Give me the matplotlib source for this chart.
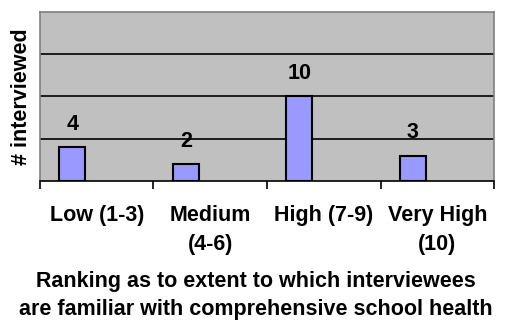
import matplotlib
matplotlib.use("Agg")
import matplotlib.pyplot as plt
import numpy as np

plt.rcParams['font.family'] = ['Liberation Sans', 'DejaVu Sans']

categories = ["Low (1-3)", "Medium\n(4-6)", "High (7-9)", "Very High\n(10)"]
counts = [4, 2, 10, 3]
x_title = "Ranking as to extent to which interviewees\nare familiar with comprehensive school health"
y_title = "# interviewed"

FS = 15.5

fig = plt.figure(figsize=(5.12, 3.22), dpi=100)
ax = fig.add_axes([0.078, 0.438, 0.887, 0.525])
ax.set_facecolor('#C0C0C0')

x = np.arange(len(categories))
offset = -0.215
width = 0.23
ax.bar(x + offset, counts, width=width, color='#9999FF',
       edgecolor='black', linewidth=1.5, zorder=3)
for xi, v in zip(x, counts):
    ax.text(xi + offset, v + 2.7, str(v), ha='center', va='center',
            fontsize=FS, fontweight='bold', zorder=4)

ax.set_xlim(-0.5, len(categories) - 0.5)
ax.set_ylim(0, 20)
for g in (5, 10, 15):
    ax.axhline(g, color='black', linewidth=1.2, zorder=1)

ax.set_yticks([])
ax.set_xticks(np.arange(len(categories) + 1) - 0.5)
ax.set_xticklabels([])
ax.tick_params(axis='x', direction='out', length=6, width=1.2, color='black')
ax.set_xticks(x, minor=True)
ax.set_xticklabels(categories, minor=True, fontsize=FS, fontweight='bold',
                   linespacing=1.5)
ax.tick_params(axis='x', which='minor', length=0, pad=17)

for side in ('left', 'top', 'right'):
    ax.spines[side].set_color('#808080')
    ax.spines[side].set_linewidth(1.2)
ax.spines['bottom'].set_color('black')
ax.spines['bottom'].set_linewidth(1.2)

ax.set_ylabel(y_title, fontsize=FS, fontweight='bold')
ax.yaxis.set_label_coords(-0.018, 0.5)
fig.text(0.5, 0.082, x_title, ha='center', va='center', fontsize=FS,
         fontweight='bold', linespacing=1.45)

fig.savefig('out.png', dpi=100)
